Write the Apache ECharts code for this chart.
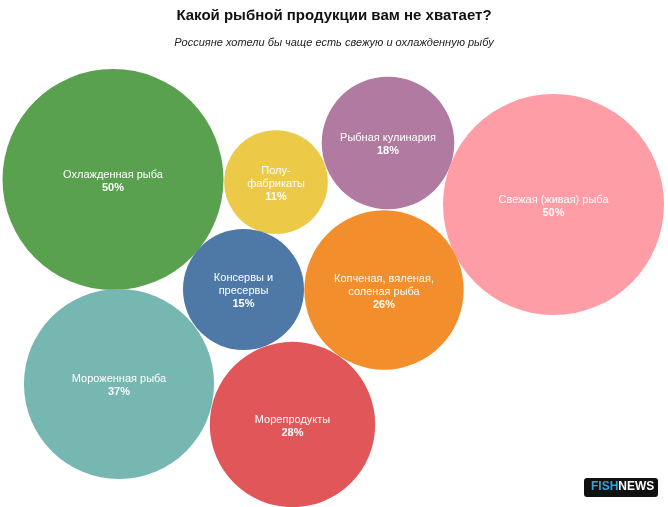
<!DOCTYPE html>
<html>
<head>
<meta charset="utf-8">
<script src="https://cdn.jsdelivr.net/npm/echarts@6/dist/echarts.min.js"></script>
<style>
  html, body { margin: 0; padding: 0; background: #fff; }
  #main { width: 668px; height: 507px; }
</style>
</head>
<body>
<div id="main"></div>
<script>
// данные
const names = [
  "Охлажденная рыба",
  "Полу-\nфабрикаты",
  "Рыбная кулинария",
  "Свежая (живая) рыба",
  "Консервы и\nпресервы",
  "Копченая, вяленая,\nсоленая рыба",
  "Мороженная рыба",
  "Морепродукты"
];
const values = [50, 11, 18, 50, 15, 26, 37, 28];
// раскладка пузырей (центры в условных единицах)
const posX = [113, 276, 388, 553.5, 243.5, 384, 119, 292.5];
const posY = [179.5, 182, 143, 204.5, 289.5, 290, 384, 424.5];
const colors = ["#59a14f", "#edc948", "#b07aa1", "#ff9da7", "#4e79a7", "#f28e2b", "#76b7b2", "#e15759"];

const maxD = 221; // диаметр для 50%

const chart = echarts.init(document.getElementById("main"));

const data = values.map((v, i) => ({
  name: names[i],
  value: [posX[i], posY[i], v],
  itemStyle: { color: colors[i] }
}));

const option = {
  animation: false,
  title: [
    {
      text: "Какой рыбной продукции вам не хватает?",
      left: "center",
      top: 3,
      textStyle: { fontFamily: "Liberation Sans", fontSize: 15, fontWeight: "bold", color: "#111" }
    },
    {
      text: "Россияне хотели бы чаще есть свежую и охлажденную рыбу",
      left: "center",
      top: 32,
      textStyle: { fontFamily: "Liberation Sans", fontSize: 11, fontStyle: "italic", fontWeight: "normal", color: "#222" }
    }
  ],
  grid: { left: 0, right: 0, top: 0, bottom: 0 },
  xAxis: { type: "value", min: 0, max: 668, show: false },
  yAxis: { type: "value", min: 0, max: 507, inverse: true, show: false },
  series: [
    {
      type: "scatter",
      data: data,
      symbol: "circle",
      symbolSize: (val) => maxD * Math.sqrt(val[2] / 50),
      itemStyle: { opacity: 1 },
      label: {
        show: true,
        position: "inside",
        offset: [0, 1.5],
        formatter: (p) => p.name + "\n{b|" + p.value[2] + "%}",
        color: "#fff",
        fontFamily: "Liberation Sans",
        fontSize: 11,
        lineHeight: 13,
        align: "center",
        rich: {
          b: { fontFamily: "Liberation Sans", fontSize: 11, fontWeight: "bold", color: "#fff", lineHeight: 13 }
        }
      },
      emphasis: { disabled: true }
    }
  ],
  graphic: [
    {
      type: "rect",
      left: 584,
      top: 478,
      shape: { width: 74, height: 19, r: 3 },
      style: { fill: "#111" }
    },
    {
      type: "text",
      left: 591,
      top: 481,
      style: {
        text: "{f|FISH}{n|NEWS}",
        rich: {
          f: { fontFamily: "Liberation Sans", fontSize: 12, fontWeight: "bold", fill: "#2aa7df" },
          n: { fontFamily: "Liberation Sans", fontSize: 12, fontWeight: "bold", fill: "#fff" }
        }
      }
    }
  ]
};

option && chart.setOption(option);
</script>
</body>
</html>
